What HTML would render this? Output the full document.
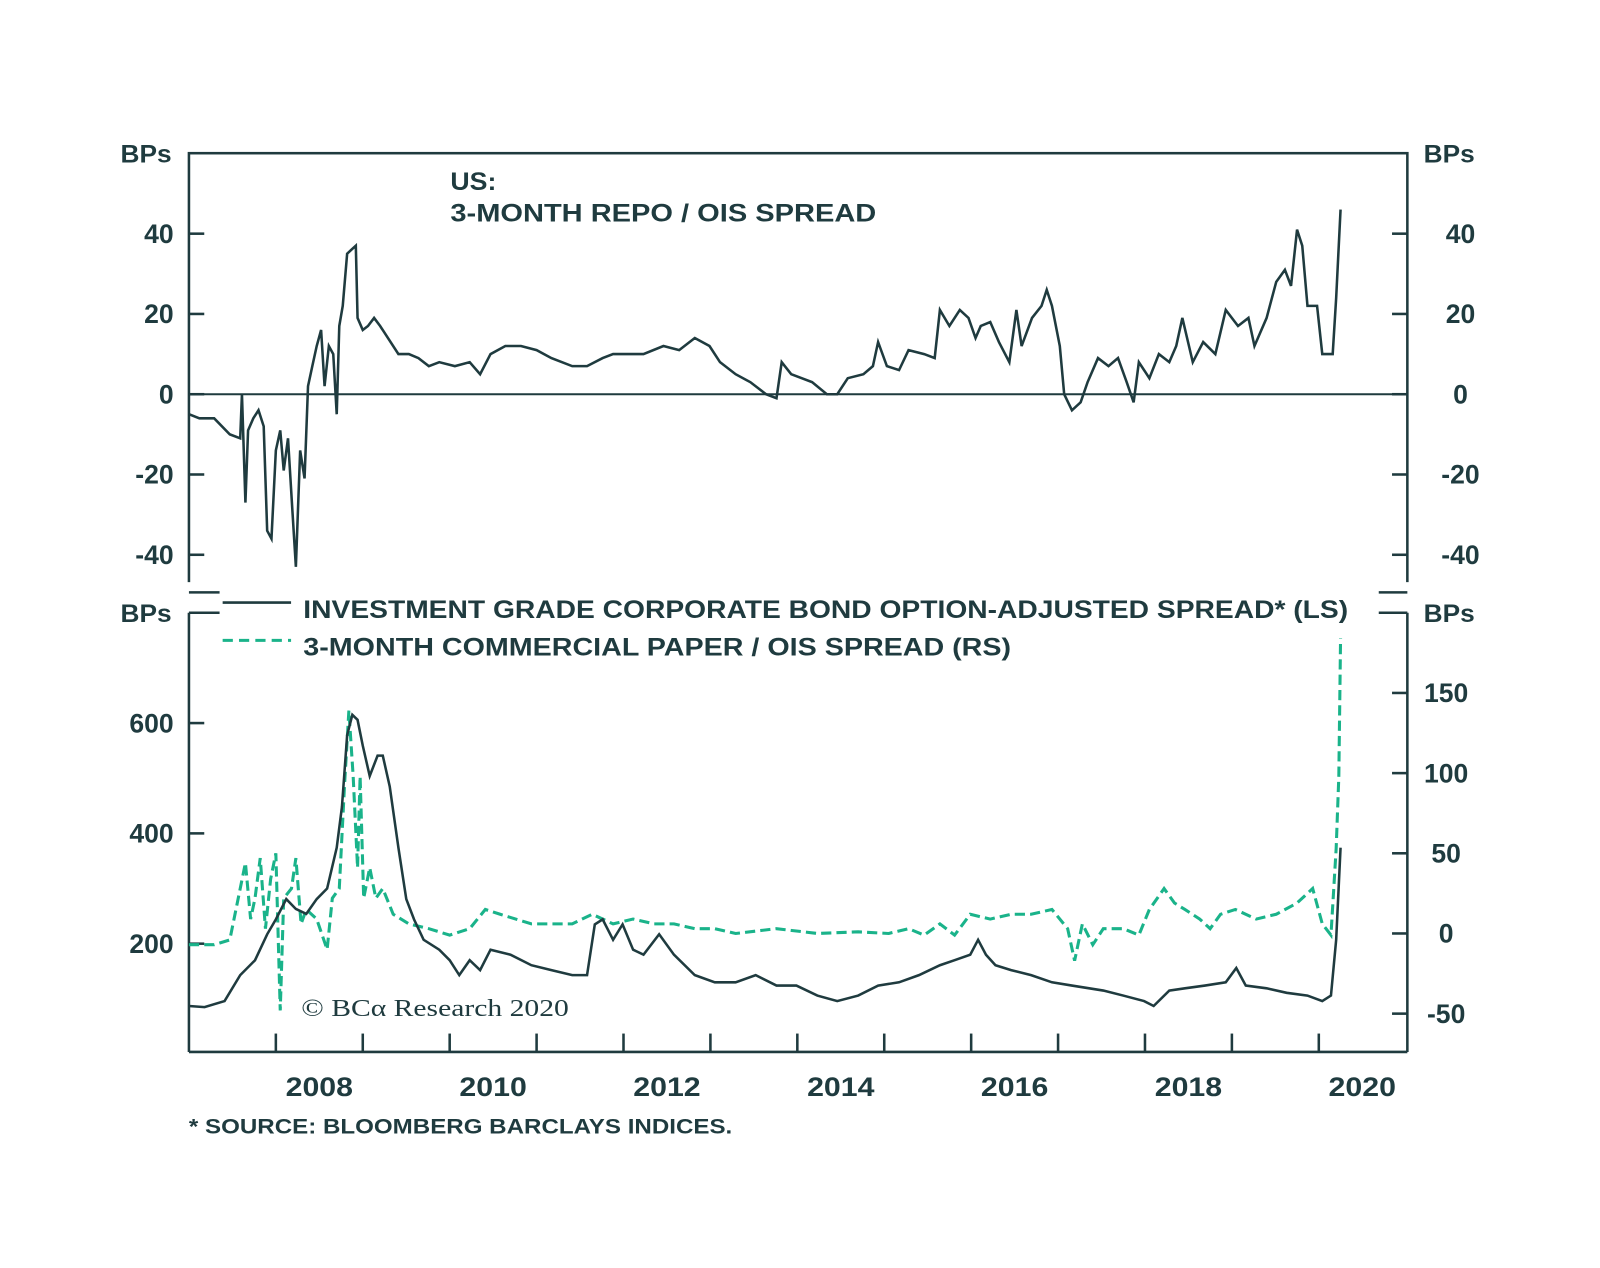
<!DOCTYPE html>
<html><head><meta charset="utf-8">
<style>
body{margin:0;background:#fff;}
svg text{font-family:"Liberation Sans",sans-serif;font-weight:bold;fill:#1f3b3f;}
</style></head>
<body>
<svg id="c" width="1600" height="1263" viewBox="0 0 1600 1263" xmlns="http://www.w3.org/2000/svg">
<g transform="scale(1.0213)">
<g id="static">
 <rect x="185" y="150" width="1193" height="430" fill="none" stroke="#1f3b3f" stroke-width="2.5"/>
 <rect x="170" y="570" width="1230" height="20" fill="#fff"/>
 <line x1="185" y1="580" x2="215" y2="580" stroke="#1f3b3f" stroke-width="2.5"/>
 <line x1="1350" y1="580" x2="1378" y2="580" stroke="#1f3b3f" stroke-width="2.5"/>
 <line x1="185" y1="600" x2="185" y2="1030" stroke="#1f3b3f" stroke-width="2.5"/>
 <line x1="1378" y1="600" x2="1378" y2="1030" stroke="#1f3b3f" stroke-width="2.5"/>
 <line x1="185" y1="1030" x2="1378" y2="1030" stroke="#1f3b3f" stroke-width="2.5"/>
 <line x1="185" y1="600" x2="215" y2="600" stroke="#1f3b3f" stroke-width="2.5"/>
 <line x1="1350" y1="600" x2="1378" y2="600" stroke="#1f3b3f" stroke-width="2.5"/>
 <text x="118" y="159" font-size="24" textLength="50" lengthAdjust="spacingAndGlyphs">BPs</text>
 <text x="1394" y="159" font-size="24" textLength="50" lengthAdjust="spacingAndGlyphs">BPs</text>
 <text x="118" y="609" font-size="24" textLength="50" lengthAdjust="spacingAndGlyphs">BPs</text>
 <text x="1394" y="609" font-size="24" textLength="50" lengthAdjust="spacingAndGlyphs">BPs</text>
 <text x="441" y="186" font-size="24" textLength="45" lengthAdjust="spacingAndGlyphs">US:</text>
 <text x="441" y="217" font-size="24" textLength="417" lengthAdjust="spacingAndGlyphs">3-MONTH REPO / OIS SPREAD</text>
 <line x1="218" y1="590" x2="285" y2="590" stroke="#1f3b3f" stroke-width="2.5"/>
 <text x="297" y="605" font-size="24" textLength="1023" lengthAdjust="spacingAndGlyphs">INVESTMENT GRADE CORPORATE BOND OPTION-ADJUSTED SPREAD* (LS)</text>
 <line x1="218" y1="627" x2="285" y2="627" stroke="#1ab38a" stroke-width="3" stroke-dasharray="10,6"/>
 <text x="297" y="642" font-size="24" textLength="693" lengthAdjust="spacingAndGlyphs">3-MONTH COMMERCIAL PAPER / OIS SPREAD (RS)</text>
 <text x="295" y="995" font-size="24" textLength="262" lengthAdjust="spacingAndGlyphs" style="font-family:'Liberation Serif',serif;font-weight:normal">© BCα Research 2020</text>
 <text x="185" y="1110" font-size="21" textLength="532" lengthAdjust="spacingAndGlyphs">* SOURCE: BLOOMBERG BARCLAYS INDICES.</text>
</g>
<g id="dyn"></g>
</g>
</svg>
<script>
const topTicks=[40,20,0,-20,-40];
const igTicks=[600,400,200];
const cpTicks=[150,100,50,0,-50];
const yearLabels=[2008,2010,2012,2014,2016,2018,2020];
const yearTicks=[2008,2009,2010,2011,2012,2013,2014,2015,2016,2017,2018,2019,2020];
const repoDates=[2007.00,2007.12,2007.29,2007.47,2007.59,2007.61,2007.65,2007.68,2007.74,2007.80,2007.86,2007.90,2007.95,2008.00,2008.05,2008.09,2008.14,2008.19,2008.23,2008.28,2008.33,2008.37,2008.42,2008.47,2008.52,2008.56,2008.61,2008.66,2008.70,2008.73,2008.77,2008.82,2008.87,2008.92,2008.94,2009.00,2009.06,2009.13,2009.20,2009.29,2009.41,2009.53,2009.64,2009.76,2009.88,2010.06,2010.23,2010.35,2010.47,2010.64,2010.82,2011.00,2011.17,2011.41,2011.58,2011.76,2011.88,2012.05,2012.23,2012.46,2012.64,2012.82,2012.99,2013.11,2013.29,2013.46,2013.64,2013.76,2013.82,2013.93,2014.05,2014.17,2014.34,2014.46,2014.58,2014.76,2014.87,2014.93,2015.03,2015.17,2015.28,2015.46,2015.58,2015.64,2015.75,2015.87,2015.97,2016.05,2016.11,2016.22,2016.32,2016.44,2016.52,2016.58,2016.70,2016.81,2016.87,2016.93,2017.02,2017.07,2017.16,2017.26,2017.34,2017.46,2017.58,2017.69,2017.79,2017.87,2017.93,2018.05,2018.16,2018.28,2018.36,2018.43,2018.55,2018.67,2018.81,2018.93,2019.07,2019.19,2019.26,2019.40,2019.51,2019.61,2019.68,2019.75,2019.81,2019.87,2019.98,2020.04,2020.10,2020.16,2020.20,2020.25];
const repoValues=[-5,-6,-6,-10,-11,0,-27,-9,-6,-4,-8,-34,-36,-14,-9,-19,-11,-29,-43,-14,-21,2,7,12,16,2,12,10,-5,17,22,35,36,37,19,16,17,19,17,14,10,10,9,7,8,7,8,5,10,12,12,11,9,7,7,9,10,10,10,12,11,14,12,8,5,3,0,-1,8,5,4,3,0,0,4,5,7,13,7,6,11,10,9,21,17,21,19,14,17,18,13,8,21,12,19,22,26,22,12,0,-4,-2,3,9,7,9,3,-2,8,4,10,8,12,19,8,13,10,21,17,19,12,19,28,31,27,41,37,22,22,10,10,10,24,46];
const igDates=[2007.00,2007.18,2007.41,2007.59,2007.76,2007.90,2008.00,2008.12,2008.23,2008.35,2008.47,2008.59,2008.70,2008.76,2008.82,2008.88,2008.94,2009.00,2009.08,2009.17,2009.23,2009.31,2009.41,2009.50,2009.59,2009.70,2009.88,2010.00,2010.11,2010.23,2010.35,2010.47,2010.70,2010.94,2011.17,2011.41,2011.58,2011.67,2011.76,2011.88,2011.99,2012.11,2012.23,2012.41,2012.58,2012.82,2013.05,2013.29,2013.52,2013.76,2013.99,2014.23,2014.46,2014.70,2014.93,2015.17,2015.40,2015.64,2015.81,2015.99,2016.08,2016.17,2016.28,2016.46,2016.69,2016.93,2017.16,2017.52,2017.75,2017.99,2018.10,2018.28,2018.46,2018.69,2018.93,2019.05,2019.16,2019.40,2019.63,2019.87,2020.04,2020.14,2020.20,2020.25];
const igValues=[87,85,96,143,170,217,244,281,263,254,281,300,374,448,578,615,606,559,504,541,541,485,374,281,244,207,189,170,143,170,152,189,180,161,152,143,143,235,244,207,235,189,180,217,180,143,130,130,143,124,124,106,96,106,124,130,143,161,170,180,207,180,161,152,143,130,124,115,106,96,87,115,119,124,130,156,124,119,111,106,96,106,207,374];
const cpDates=[2007.00,2007.29,2007.47,2007.59,2007.65,2007.71,2007.76,2007.82,2007.88,2007.94,2008.00,2008.05,2008.09,2008.18,2008.23,2008.29,2008.35,2008.47,2008.59,2008.65,2008.73,2008.79,2008.84,2008.89,2008.94,2008.97,2009.01,2009.08,2009.15,2009.23,2009.35,2009.53,2009.76,2010.00,2010.23,2010.41,2010.58,2010.94,2011.17,2011.41,2011.64,2011.88,2012.11,2012.35,2012.58,2012.82,2013.05,2013.29,2013.76,2014.23,2014.70,2015.05,2015.28,2015.46,2015.64,2015.81,2015.99,2016.22,2016.46,2016.69,2016.93,2017.11,2017.19,2017.28,2017.40,2017.52,2017.75,2017.93,2018.05,2018.22,2018.34,2018.46,2018.63,2018.75,2018.87,2019.04,2019.28,2019.51,2019.75,2019.93,2020.04,2020.14,2020.20,2020.23,2020.25];
const cpValues=[-7,-7,-4,28,44,9,22,47,3,34,50,-48,22,28,47,6,15,9,-10,22,28,92,139,98,41,98,22,41,22,28,12,6,3,-1,3,15,12,6,6,6,12,6,9,6,6,3,3,0,3,0,1,0,3,-1,6,-1,12,9,12,12,15,3,-17,6,-7,3,3,-1,15,28,19,15,9,3,12,15,9,12,19,28,6,-1,53,98,184];

const NS="http://www.w3.org/2000/svg";
const dyn=document.getElementById('dyn');
const xS=t=>185+(t-2007)*85.1;
const yTop=v=>386-v*3.93;
const yIG=v=>1032-v*0.54;
const yCP=v=>914-v*1.57;
function mk(tag,attrs){const e=document.createElementNS(NS,tag);for(const k in attrs)e.setAttribute(k,attrs[k]);dyn.appendChild(e);return e;}
const C="#1f3b3f";
topTicks.forEach(v=>{
 let l=mk('line',{x1:185,x2:200,y1:yTop(v),y2:yTop(v),stroke:C,'stroke-width':2.5});
 
 
 let r=mk('line',{x1:1363,x2:1378,y1:yTop(v),y2:yTop(v),stroke:C,'stroke-width':2.5});
 
 
 let t=mk('text',{x:170,y:yTop(v)+9,'font-size':26,'text-anchor':'end'});t.textContent=v;
 
 
 let t2=mk('text',{x:1430,y:yTop(v)+9,'font-size':26,'text-anchor':'middle'});t2.textContent=v;
 
 
});
let z=mk('line',{x1:185,x2:1378,y1:yTop(0),y2:yTop(0),stroke:C,'stroke-width':2});


igTicks.forEach(v=>{
 let l=mk('line',{x1:185,x2:200,y1:yIG(v),y2:yIG(v),stroke:C,'stroke-width':2.5});
 
 
 let t=mk('text',{x:170,y:yIG(v)+9,'font-size':26,'text-anchor':'end'});t.textContent=v;
 
 
});
cpTicks.forEach(v=>{
 let l=mk('line',{x1:1363,x2:1378,y1:yCP(v),y2:yCP(v),stroke:C,'stroke-width':2.5});
 
 
 let t=mk('text',{x:1416,y:yCP(v)+9,'font-size':26,'text-anchor':'middle'});t.textContent=v;
 
 
});
yearTicks.forEach(y=>{
 let l=mk('line',{x1:xS(y),x2:xS(y),y1:1012,y2:1030,stroke:C,'stroke-width':2.5});
 
 
});
yearLabels.forEach(y=>{
 let t=mk('text',{x:xS(y+0.5),y:1073,'font-size':26,'text-anchor':'middle',textLength:66,lengthAdjust:'spacingAndGlyphs'});t.textContent=y;
 
 
});
function path(d,v,ys){return d.map((t,i)=>(i?'L':'M')+xS(t).toFixed(1)+','+ys(v[i]).toFixed(1)).join('');}
let cp=mk('path',{d:path(cpDates,cpValues,yCP),fill:'none',stroke:'#1ab38a','stroke-width':3,'stroke-dasharray':'10,5'});


let ig=mk('path',{d:path(igDates,igValues,yIG),fill:'none',stroke:C,'stroke-width':2.5});


let rp=mk('path',{d:path(repoDates,repoValues,yTop),fill:'none',stroke:C,'stroke-width':2.5});


</script>
</body></html>
